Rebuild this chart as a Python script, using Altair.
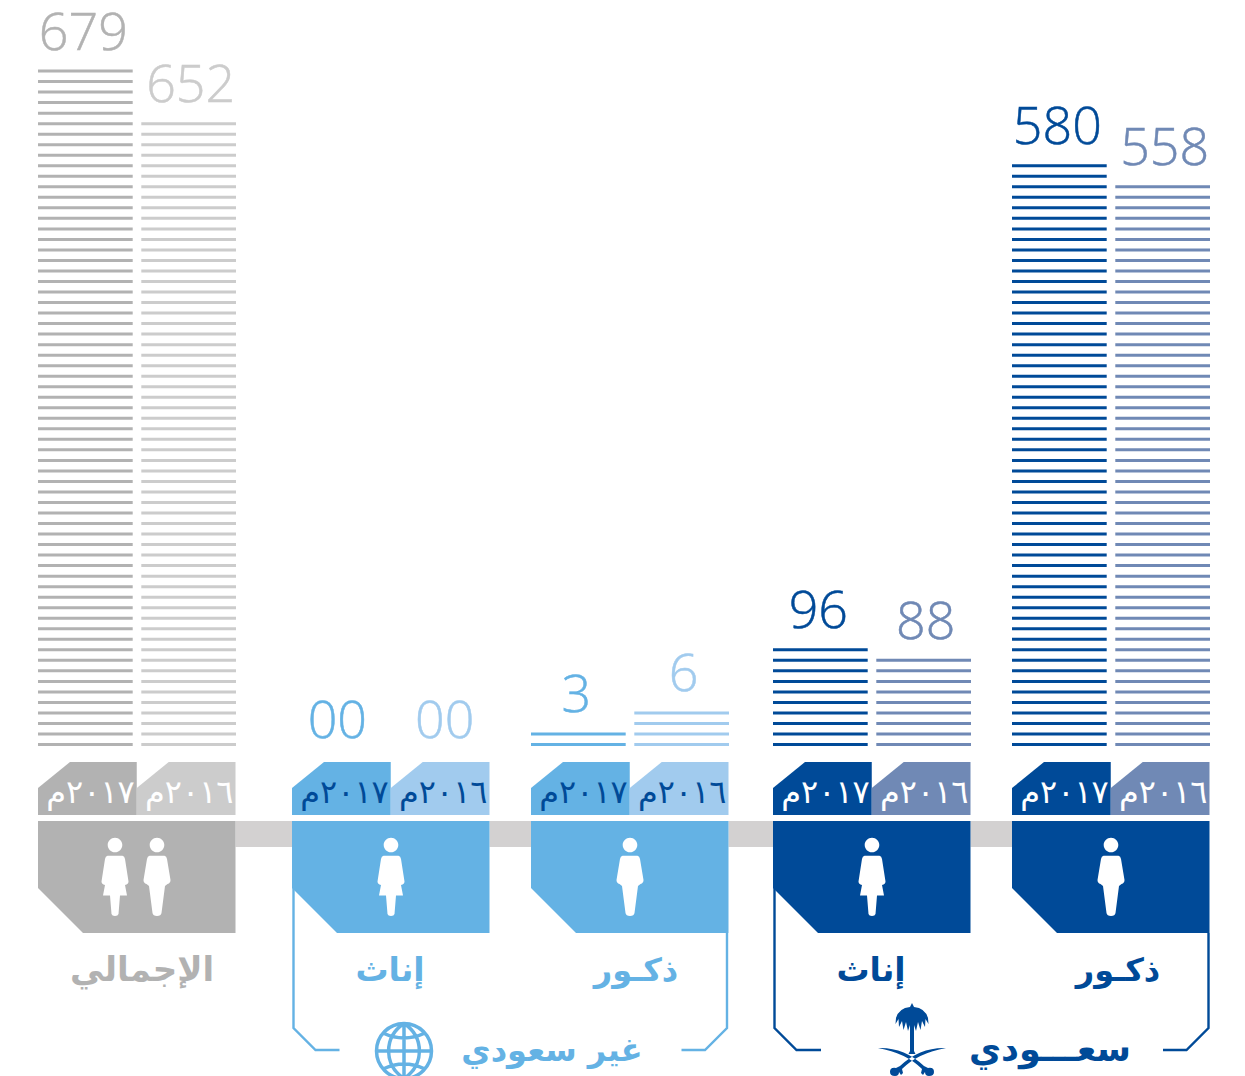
import altair as alt
import pandas as pd

# ---------- chart values ----------
CATEGORIES = ["الإجمالي", "إناث", "ذكـور", "إناث", "ذكـور"]
YEARS = ["٢٠١٧م", "٢٠١٦م"]
LABELS_2017 = ["679", "00", "3", "96", "580"]
LABELS_2016 = ["652", "00", "6", "88", "558"]
STRIPES_2017 = [65, 0, 2, 10, 56]
STRIPES_2016 = [60, 0, 4, 9, 54]
GROUP_TITLES = ["غير سعودي", "سعـــودي"]

# ---------- layout (reference pixels) ----------
W, H = 1229, 1068
LEFTS = [38, 292, 531, 773, 1012]
BOX_W, TAB_W, BAR_W, BAR_GAP = 197.5, 98.75, 94.7, 8.6
C_GREY, C_GREY2 = "#b2b2b2", "#cccccc"
C_SKY, C_SKY2 = "#64b2e4", "#a1cbee"
C_NAVY, C_NAVY2 = "#004a98", "#7089b5"
C_BAND = "#d3d1d1"
COL_2017 = [C_GREY, C_SKY, C_SKY, C_NAVY, C_NAVY]
COL_2016 = [C_GREY2, C_SKY2, C_SKY2, C_NAVY2, C_NAVY2]
TAB_TEXT = ["#ffffff", C_NAVY, C_NAVY, "#ffffff", "#ffffff"]
LABEL_FONT = "Open Sans"
AR_FONT = "DejaVu Sans"

X = alt.X("x:Q", scale=alt.Scale(domain=[8, 8 + W], nice=False, zero=False), axis=None)
X2 = alt.X2("x2:Q")
Y = alt.Y("y:Q", scale=alt.Scale(domain=[8 + H, 8], nice=False, zero=False), axis=None)
Y2 = alt.Y2("y2:Q")
COLOR = alt.Color("c:N", scale=None)

# stripe scale: one unit of level is one stripe pitch
LEVEL = alt.Y("level:Q", scale=alt.Scale(domain=[-31.50, 69.99], nice=False, zero=False), axis=None)

stripes, labels, tabs, tab_text = [], [], [], []
for i, left in enumerate(LEFTS):
    for j, (cnt, lab, col) in enumerate(
        [(STRIPES_2017[i], LABELS_2017[i], COL_2017[i]), (STRIPES_2016[i], LABELS_2016[i], COL_2016[i])]
    ):
        bx = left + j * (BAR_W + BAR_GAP)
        for k in range(cnt):
            stripes.append(dict(x=bx, x2=bx + BAR_W, level=k, c=col))
        labels.append(dict(x=bx + BAR_W / 2 + (-2 if j == 0 else 2), level=(cnt - 1 if cnt else -1.43), t=lab, c=col))
        tl = left + j * TAB_W
        for px, top in [(tl, 788), (tl + 32, 762), (tl + TAB_W, 762)]:
            tabs.append(dict(x=px, y=top, y2=815, c=col, id=f"t{i}{j}"))
        tab_text.append(dict(x=tl + TAB_W - 2, y=803, t=YEARS[j], c=TAB_TEXT[i]))

boxes = []
for i, left in enumerate(LEFTS):
    for px, bottom in [(left, 888), (left + 45, 933), (left + BOX_W, 933)]:
        boxes.append(dict(x=px, y=821, y2=bottom, c=COL_2017[i], id=f"b{i}"))

bands = pd.DataFrame(
    [dict(x=LEFTS[i] + BOX_W, x2=LEFTS[i + 1], y=821, y2=847) for i in range(4)]
)

brackets = []
for name, col, pts in [
    ("l1", C_SKY, [(293.5, 888), (293.5, 1028), (315.5, 1050), (339.5, 1050)]),
    ("r1", C_SKY, [(727, 933), (727, 1028), (705, 1050), (681.5, 1050)]),
    ("l2", C_NAVY, [(774.5, 888), (774.5, 1028), (796.5, 1050), (821, 1050)]),
    ("r2", C_NAVY, [(1208.5, 933), (1208.5, 1028), (1186.5, 1050), (1163, 1050)]),
]:
    for o, (px, py) in enumerate(pts):
        brackets.append(dict(x=px, y=py, id=name, o=o, c=col))

cat_text = pd.DataFrame(
    [
        dict(x=142, y=981, t=CATEGORIES[0], c=C_GREY, fs=34),
        dict(x=390, y=981, t=CATEGORIES[1], c=C_SKY, fs=33),
        dict(x=636, y=981, t=CATEGORIES[2], c=C_SKY, fs=32),
        dict(x=871, y=981, t=CATEGORIES[3], c=C_NAVY, fs=33),
        dict(x=1118, y=981, t=CATEGORIES[4], c=C_NAVY, fs=32),
        dict(x=552, y=1061, t=GROUP_TITLES[0], c=C_SKY, fs=32),
        dict(x=1050, y=1061, t=GROUP_TITLES[1], c=C_NAVY, fs=35),
    ]
)

# ---------- icons: size=4 makes one path unit one pixel ----------
HEAD = "M-7.3 -32a7.3 7.3 0 1 0 14.6 0a7.3 7.3 0 1 0 -14.6 0Z"
MAN = HEAD + ("M-7.5 -21.3L7.5 -21.3Q9.5 -21 10 -18L13.5 3Q13.5 6 10.5 7L8 9L4.5 36Q4 39 0 39"
              "Q-4 39 -4.5 36L-8 9L-10.5 7Q-13.5 6 -13.5 3L-10 -18Q-9.5 -21 -7.5 -21.3Z")
WOMAN = HEAD + ("M-7.5 -21.3L7.5 -21.3Q9.5 -21 10 -18L13.5 4.5Q13.5 7 10 8L12 18.5L5 18.5L3.5 37"
                "Q3 39 0 39Q-3 39 -3.5 37L-5 18.5L-12 18.5L-10 8Q-13.5 7 -13.5 4.5L-10 -18Q-9.5 -21 -7.5 -21.3Z")
GLOBE = ("M-27.5 0a27.5 27.5 0 1 0 55 0a27.5 27.5 0 1 0 -55 0Z M0 -27.5L0 27.5 M-27.5 0L27.5 0"
         "M0 -27.5C-20.5 -14 -20.5 14 0 27.5 M0 -27.5C20.5 -14 20.5 14 0 27.5"
         "M-21 -18Q0 -8 21 -18 M-21 18Q0 8 21 18")
EMBLEM = ("M0 -37L2 -33Q13 -32 16 -22L16.5 -16L13.5 -21L13 -13L10 -19L8.5 -10L6 -18L4 -9L2 -15L2 11L3.5 14L-3.5 14L-2 11"
          "L-2 -15L-4 -9L-6 -18L-8.5 -10L-10 -19L-13 -13L-13.5 -21L-16.5 -16L-16 -22Q-13 -32 -2 -33Z"
          "M-34 8Q-8 7 12 26L16 28Q22 27 22 32Q22 36 17 36Q13 36 13 32L11 35L9 33L10 29Q-6 13 -34 8Z"
          "M34 8Q8 7 -12 26L-16 28Q-22 27 -22 32Q-22 36 -17 36Q-13 36 -13 32L-11 35L-9 33L-10 29Q6 13 34 8Z")


def icon(rows, path, fill=True, stroke_width=0):
    df = pd.DataFrame(rows)
    if fill:
        m = alt.Chart(df).mark_point(shape=path, size=4, filled=True, opacity=1, strokeWidth=0)
    else:
        m = alt.Chart(df).mark_point(shape=path, size=4, filled=False, opacity=1, strokeWidth=stroke_width)
    enc = dict(x=X, y=Y)
    enc["fill" if fill else "stroke"] = COLOR
    return m.encode(**enc)


layers = [
    alt.Chart(bands).mark_rect(color=C_BAND).encode(x=X, x2=X2, y=Y, y2=Y2),
    alt.Chart(pd.DataFrame(tabs)).mark_area(interpolate="linear", opacity=1).encode(
        x=X, y=Y, y2=Y2, fill=COLOR, detail="id:N"
    ),
    alt.Chart(pd.DataFrame(boxes)).mark_area(interpolate="linear", opacity=1).encode(
        x=X, y=Y, y2=Y2, fill=COLOR, detail="id:N"
    ),
    alt.Chart(pd.DataFrame(brackets)).mark_line(strokeWidth=2.4, interpolate="linear").encode(
        x=X, y=Y, stroke=COLOR, detail="id:N", order="o:Q"
    ),
    alt.Chart(pd.DataFrame(stripes)).mark_rule(strokeWidth=3).encode(
        x=X, x2=X2, y=LEVEL, stroke=COLOR
    ),
    alt.Chart(pd.DataFrame(labels)).mark_text(
        font=LABEL_FONT, fontWeight=300, fontSize=52, align="center", baseline="alphabetic", dy=-21.5,
        strokeWidth=0.5,
    ).encode(x=X, y=LEVEL, text="t:N", fill=COLOR, stroke=COLOR),
    alt.Chart(pd.DataFrame(tab_text)).mark_text(
        font=AR_FONT, fontSize=32, align="right", baseline="alphabetic"
    ).encode(x=X, y=Y, text="t:N", fill=COLOR),
    alt.Chart(cat_text).mark_text(
        font=AR_FONT, fontWeight="bold", align="center", baseline="alphabetic"
    ).encode(x=X, y=Y, text="t:N", fill=COLOR, size=alt.Size("fs:Q", scale=None)),
    icon([dict(x=115, y=877, c="#ffffff"), dict(x=391, y=877, c="#ffffff"), dict(x=872, y=877, c="#ffffff")], WOMAN),
    icon([dict(x=157, y=877, c="#ffffff"), dict(x=630, y=877, c="#ffffff"), dict(x=1111, y=877, c="#ffffff")], MAN),
    icon([dict(x=404, y=1051, c=C_SKY)], GLOBE, fill=False, stroke_width=3.5),
    icon([dict(x=912, y=1040, c=C_NAVY)], EMBLEM),
]

chart = (
    alt.layer(*layers)
    .resolve_scale(y="independent")
    .properties(width=W, height=H, padding=0, autosize=alt.AutoSizeParams(type="none"))
    .configure_view(stroke=None)
)
chart.save("out.html", embed_options={"renderer": "svg", "actions": False})
